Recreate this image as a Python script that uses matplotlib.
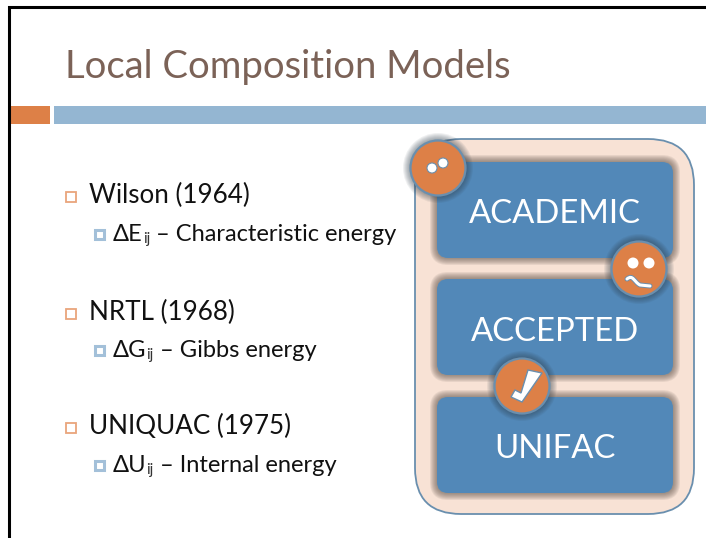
import matplotlib
matplotlib.use("Agg")
import matplotlib.pyplot as plt
from matplotlib.patches import FancyBboxPatch, Circle, Rectangle, Polygon
from matplotlib.path import Path
from matplotlib.patches import PathPatch

plt.rcParams['font.family'] = ['Lato', 'DejaVu Sans']

# slide text
title = "Local Composition Models"
headings = ["Wilson (1964)", "NRTL (1968)", "UNIQUAC (1975)"]
sub_symbols = ["\u0394E", "\u0394G", "\u0394U"]
sub_labels = ["\u2013 Characteristic energy", "\u2013 Gibbs energy", "\u2013 Internal energy"]
box_labels = ["ACADEMIC", "ACCEPTED", "UNIFAC"]

# baselines in pixels
heading_y = [203, 320, 434]
sub_y = [241, 357, 472]
box_tops = [162, 279, 397]
box_label_y = [223, 341, 458]

ORANGE = "#DD8047"
BAR_BLUE = "#94B6D2"
BOX_BLUE = "#5288B8"
PEACH = "#F8E2D5"
EDGE = "#6A8FAE"
BROWN = "#7B6257"

fig = plt.figure(figsize=(7.06, 5.38), dpi=100)
ax = fig.add_axes([0, 0, 1, 1])
ax.set_xlim(0, 706)
ax.set_ylim(538, 0)
ax.axis("off")


def rounded(x0, y0, x1, y1, r, **kw):
    p = FancyBboxPatch((x0 + r, y0 + r), x1 - x0 - 2 * r, y1 - y0 - 2 * r,
                       boxstyle="round,pad=%f,rounding_size=%f" % (r, r), **kw)
    ax.add_patch(p)
    return p


def glow_box(x0, y0, x1, y1, r, z):
    # soft shadow from stacked see-through outlines
    for g in range(7, 0, -1):
        rounded(x0 - g, y0 - g, x1 + g, y1 + g, r + g, fc="#5a4c44", ec="none",
                alpha=0.10, zorder=z)
    rounded(x0, y0, x1, y1, r, fc=BOX_BLUE, ec="none", zorder=z + 1)


def badge(cx, cy, z=10):
    for g in range(7, 0, -1):
        ax.add_patch(Circle((cx, cy), 28 + g, fc="#2c3a46", ec="none", alpha=0.075, zorder=z))
    ax.add_patch(Circle((cx, cy), 27.5, fc=ORANGE, ec=EDGE, lw=1.6, zorder=z + 1))


# frame of the screenshot
ax.plot([9, 9, 706], [538, 6.5, 6.5], color="black", lw=2.2, solid_joinstyle="miter", zorder=20)

# title and rule bars
ax.text(65, 78, title, fontsize=27.5, color=BROWN, va="baseline")
ax.add_patch(Rectangle((10, 106), 40, 18, fc=ORANGE, ec="none"))
ax.add_patch(Rectangle((54, 106), 652, 18, fc=BAR_BLUE, ec="none"))

# bullet lists
fig.canvas.draw()
rend = fig.canvas.get_renderer()
for i in range(len(headings)):
    ax.add_patch(Rectangle((65.5, heading_y[i] - 11), 10, 10, fc="white", ec="#E9A57C", lw=1.3))
    ax.text(89, heading_y[i], headings[i], fontsize=18.7, color="#111111", va="baseline")

    ax.add_patch(Rectangle((95, sub_y[i] - 11), 9, 9, fc="white", ec="#A3C0D9", lw=2.2))
    t = ax.text(113, sub_y[i], sub_symbols[i], fontsize=17, color="#111111", va="baseline")
    x = ax.transData.inverted().transform(t.get_window_extent(rend))[1][0]
    t2 = ax.text(x, sub_y[i] + 2, "ij", fontsize=11, color="#333333", va="baseline")
    x = ax.transData.inverted().transform(t2.get_window_extent(rend))[1][0]
    ax.text(x + 6, sub_y[i], sub_labels[i], fontsize=17, color="#111111", va="baseline")

# panel with the three boxes
rounded(415, 139, 694, 514, 46, fc=PEACH, ec=EDGE, lw=1.3, zorder=2)
for i in range(len(box_labels)):
    glow_box(437, box_tops[i], 673, box_tops[i] + 96, 11, 3)
    ax.text(555, box_label_y[i], box_labels[i], fontsize=23.7, color="white",
            ha="center", va="baseline", zorder=6)

# badge 1: two dots
badge(438, 168)
ax.add_patch(Circle((432, 168), 5, fc="white", ec=EDGE, lw=0.8, zorder=12))
ax.add_patch(Circle((443, 163), 5, fc="white", ec=EDGE, lw=0.8, zorder=12))

# badge 2: smiley
badge(639, 269)
ax.add_patch(Circle((633, 263), 5.5, fc="white", ec="none", zorder=12))
ax.add_patch(Circle((649, 263), 5.5, fc="white", ec="none", zorder=12))
smile = Path([(627, 279), (633, 274), (634, 282), (640, 285), (650, 286)],
             [Path.MOVETO, Path.CURVE4, Path.CURVE4, Path.CURVE4, Path.LINETO])
ax.add_patch(PathPatch(smile, fc="none", ec=EDGE, lw=3.6, capstyle="round", zorder=12))
ax.add_patch(PathPatch(smile, fc="none", ec="white", lw=2.2, capstyle="round", zorder=13))

# badge 3: check mark
badge(522, 386)
check = [(528, 370), (542, 373), (522, 402), (511, 397), (515, 390), (521, 393)]
ax.add_patch(Polygon(check, closed=True, fc="white", ec=EDGE, lw=1, zorder=12))

fig.savefig("out.png", dpi=100)
